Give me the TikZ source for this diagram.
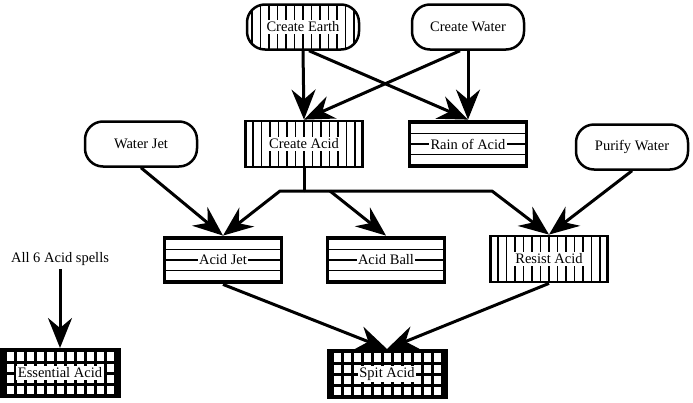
\documentclass[tikz,border=0pt]{standalone}
\usepackage{fontspec}
\setmainfont{Liberation Serif}
\usepackage{tikz}
\usetikzlibrary{arrows.meta}

\newcommand{\lbl}[1]{{\setlength{\fboxsep}{1.5pt}\colorbox{white}{#1}}}

\tikzset{
  oval/.style={draw, line width=2.5pt, rounded corners=18pt, minimum width=112pt, minimum height=45pt, inner sep=0pt},
  box/.style={draw, line width=2.8pt, minimum width=117pt, minimum height=46pt, inner sep=0pt},
  vlines/.style={path picture={
    \foreach \d in {-59.5,-51,...,60}
      \draw[line width=1.7pt] ([xshift=\d pt]path picture bounding box.north) -- ([xshift=\d pt]path picture bounding box.south);}},
  hlines/.style={path picture={
    \foreach \d in {-21,-10.5,...,22}
      \draw[line width=1.7pt] ([yshift=\d pt]path picture bounding box.west) -- ([yshift=\d pt]path picture bounding box.east);}},
  grid/.style={path picture={
    \foreach \d in {-55,-45,...,56}
      \draw[line width=3pt] ([xshift=\d pt]path picture bounding box.north) -- ([xshift=\d pt]path picture bounding box.south);
    \foreach \d in {-11,0,11}
      \draw[line width=3pt] ([yshift=\d pt]path picture bounding box.west) -- ([yshift=\d pt]path picture bounding box.east);}},
  vbox/.style={box, vlines},
  hbox/.style={box, hlines},
  gbox/.style={box, line width=4pt, grid},
  arr/.style={line width=3pt, line join=round, -{Stealth[length=30pt,width=24pt,inset=10pt]}}
}

\begin{document}
\begin{tikzpicture}[x=1pt,y=-1pt,font=\fontsize{14.5}{17}\selectfont]
  \useasboundingbox (0,0) rectangle (693,402);

  % top row
  \node[oval, vlines] (earth) at (303,27) {\lbl{Create Earth}};
  \node[oval] (water) at (468,27) {Create Water};

  % second row
  \node[oval] (wjet) at (141,144) {Water Jet};
  \node[vbox] (cacid) at (304,144) {\lbl{Create Acid}};
  \node[hbox] (rain) at (468,144) {\lbl{Rain of Acid}};
  \node[oval] (purify) at (632,147) {Purify Water};

  % third row
  \node (spells) at (60,259) {All 6 Acid spells};
  \node[hbox] (jet) at (223,260) {\lbl{Acid Jet}};
  \node[hbox] (ball) at (386,260) {\lbl{Acid Ball}};
  \node[vbox] (resist) at (549,259) {\lbl{Resist Acid}};

  % bottom row
  \node[gbox] (ess) at (60,373) {\lbl{Essential Acid}};
  \node[gbox] (spit) at (387,374) {\lbl{Spit Acid}};

  \coordinate (j) at (304,191);
  \coordinate (jl) at (280,191);
  \coordinate (jr) at (492,191);
  \coordinate (jb) at (330,191);

  \draw[arr] (earth.south) -- (cacid.north);
  \draw[arr] ([xshift=6pt]earth.south) -- (rain.north);
  \draw[arr] (water.south) -- (rain.north);
  \draw[arr] ([xshift=-8pt]water.south) -- (cacid.north);

  \draw[line width=3pt] (cacid.south) -- (j);
  \draw[arr] (j) -- (jl) -- (jet.north);
  \draw[arr] (j) -- (jr) -- (resist.north);
  \draw[arr] (jb) -- (ball.north);
  \draw[arr] (wjet.south) -- (jet.north);
  \draw[arr] (purify.south) -- (resist.north);

  \draw[arr] (spells.south) -- (ess.north);
  \draw[arr] (jet.south) -- (spit.north);
  \draw[arr] (resist.south) -- (spit.north);
\end{tikzpicture}
\end{document}
